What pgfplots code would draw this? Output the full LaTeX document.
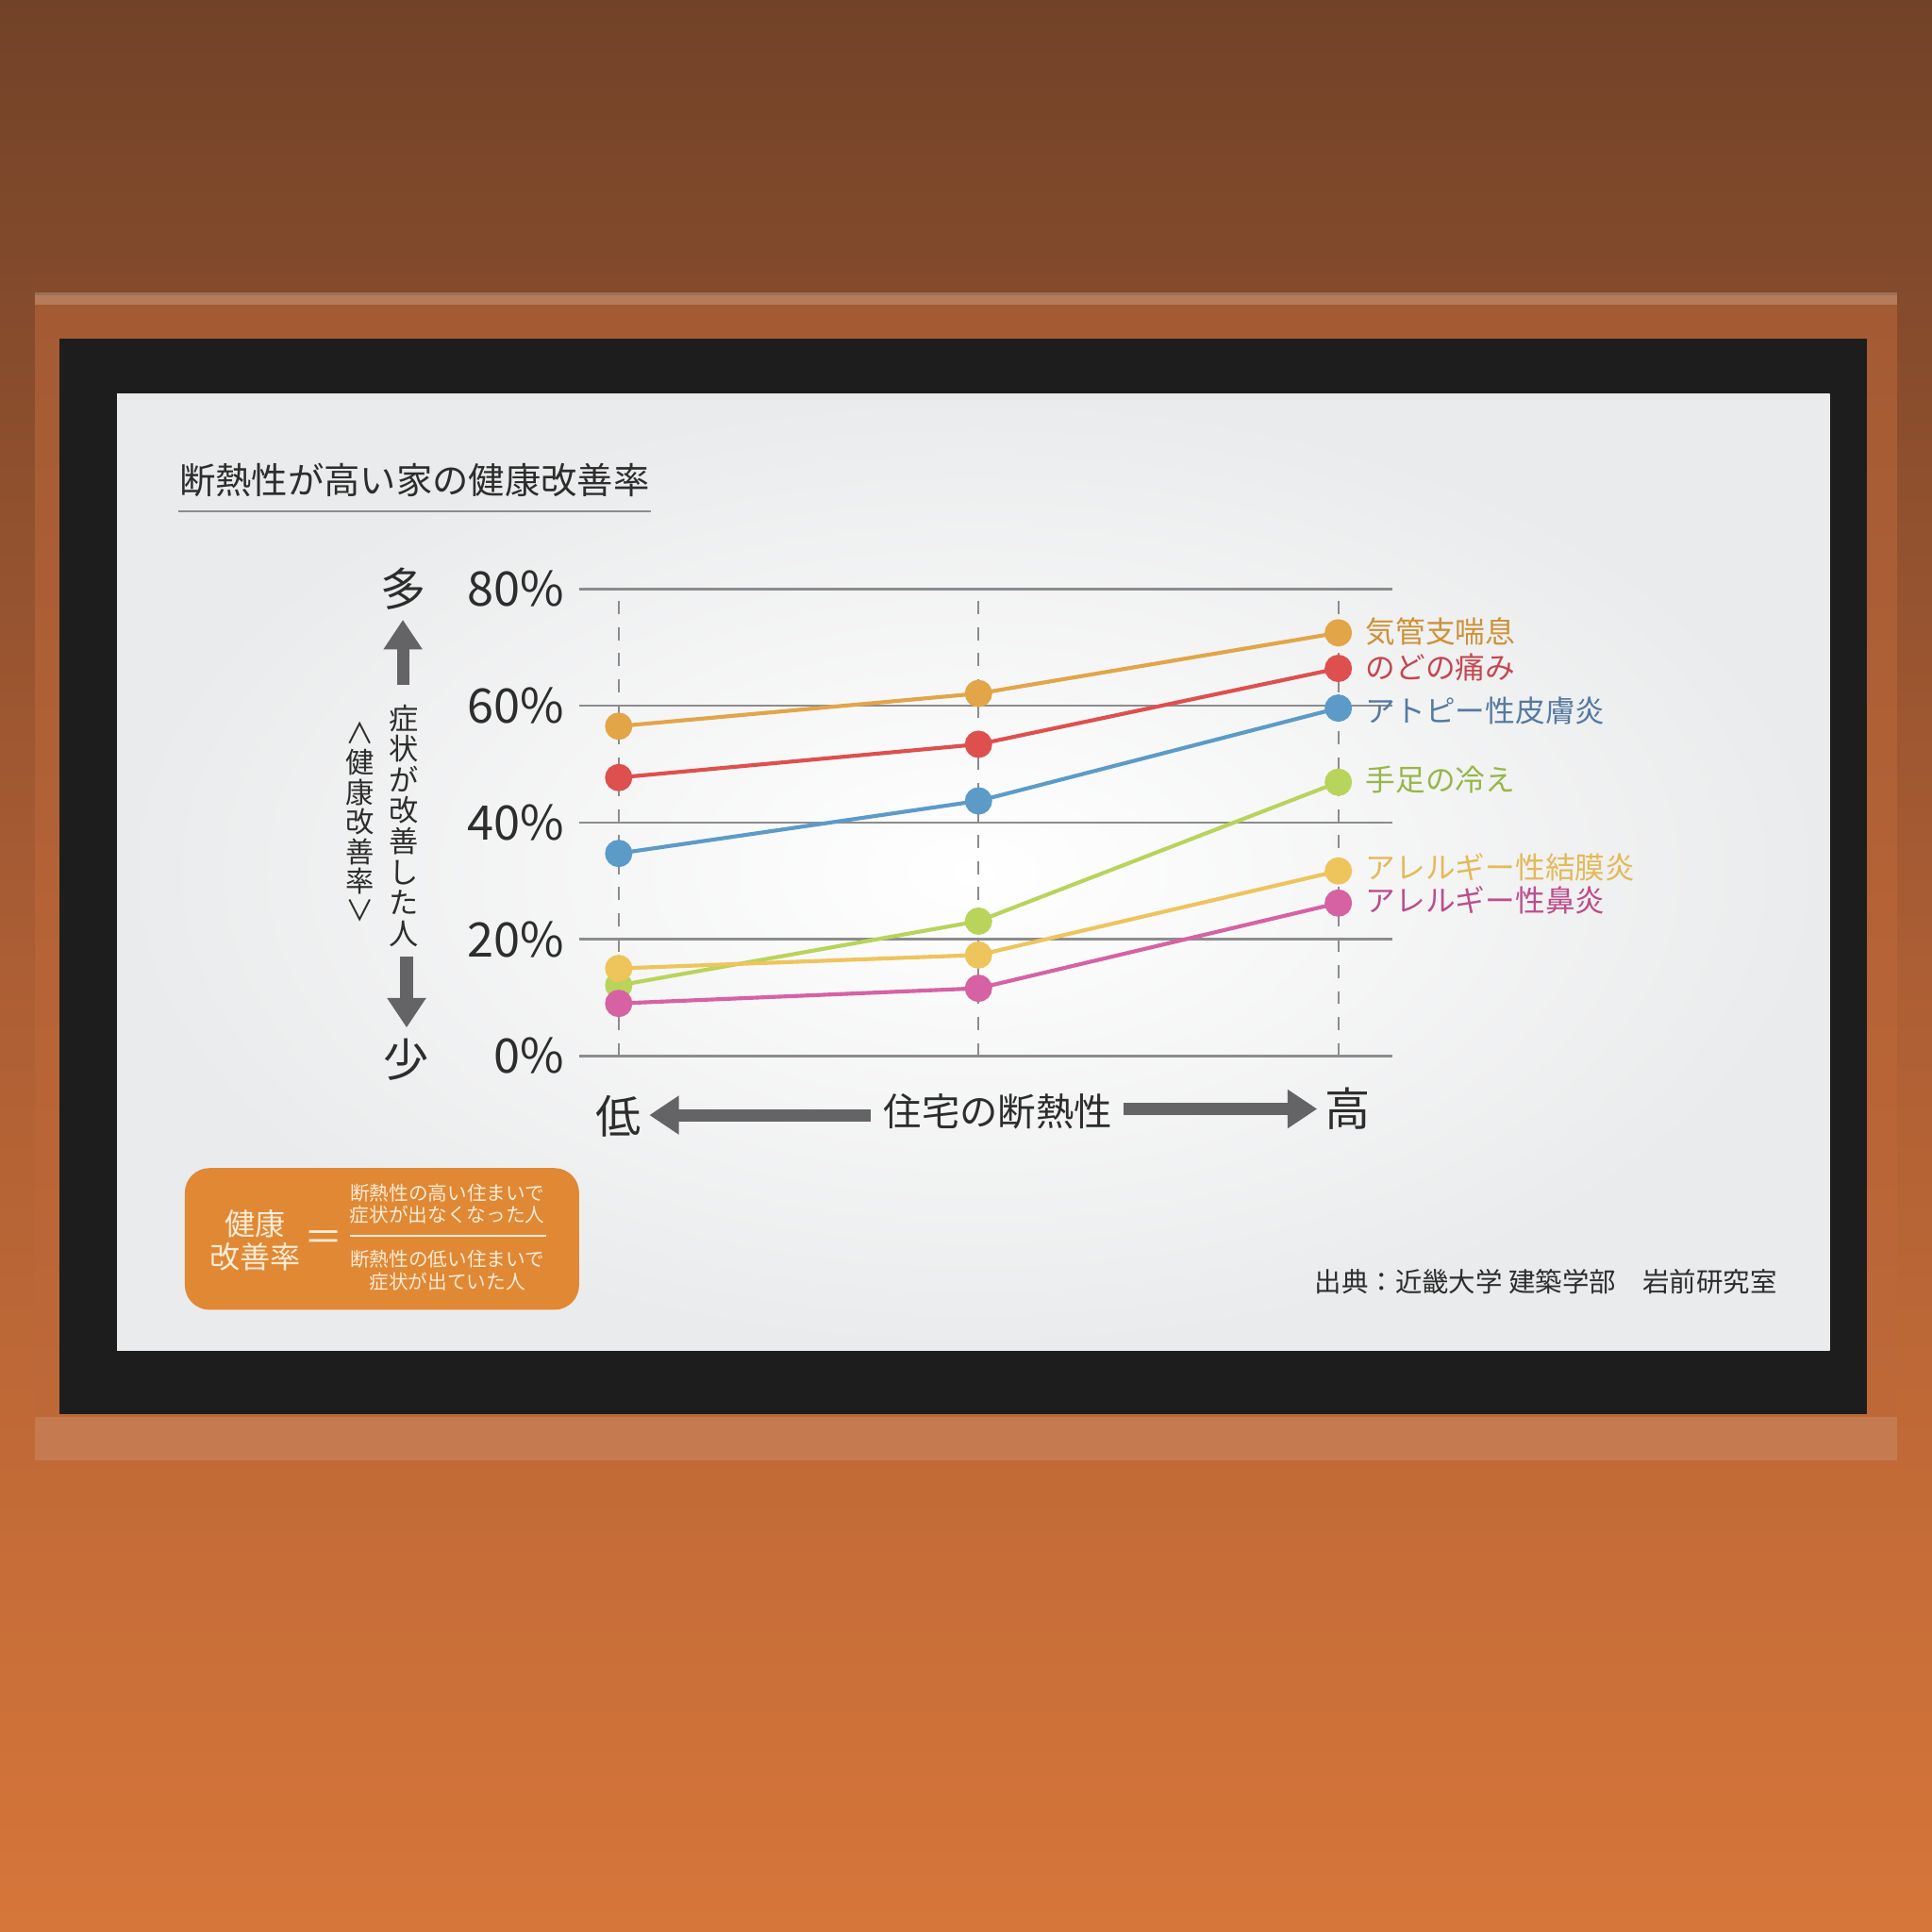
\documentclass[border=0pt]{standalone}
\usepackage{fontspec}
\setmainfont{Noto Sans CJK JP}
\usepackage{pgfplots}
\pgfplotsset{compat=1.18}
\usetikzlibrary{arrows.meta}
\definecolor{bgTop}{RGB}{114,66,40}
\definecolor{bgMid}{RGB}{172,94,52}
\definecolor{bgBot}{RGB}{214,118,58}
\definecolor{wallIn}{RGB}{190,104,58}
\definecolor{bezel}{RGB}{30,29,30}
\definecolor{scr}{RGB}{234,235,236}
\definecolor{arrowgray}{RGB}{100,100,102}
\definecolor{txt}{RGB}{45,45,45}
\definecolor{gridc}{RGB}{140,140,143}
\definecolor{boxor}{RGB}{224,136,52}
\definecolor{cream}{RGB}{252,236,214}
% series colours
\definecolor{cOr}{RGB}{226,165,72}
\definecolor{cRe}{RGB}{222,80,78}
\definecolor{cBl}{RGB}{92,155,200}
\definecolor{cGr}{RGB}{184,212,90}
\definecolor{cYe}{RGB}{238,196,92}
\definecolor{cPk}{RGB}{214,98,164}
% label colours
\definecolor{tOr}{RGB}{206,145,55}
\definecolor{tRe}{RGB}{196,72,80}
\definecolor{tBl}{RGB}{86,122,160}
\definecolor{tGr}{RGB}{150,182,72}
\definecolor{tYe}{RGB}{228,185,88}
\definecolor{tPk}{RGB}{188,78,140}
\begin{document}
\begin{tikzpicture}
\begin{scope}[x=0.1mm,y=-0.1mm]
% wall
\shade[top color=bgTop, bottom color=bgBot, middle color=bgMid] (0,0) rectangle (1568,1568);
\fill[wallIn, opacity=0.55] (28,240) rectangle (1540,1185);
\draw[white, opacity=0.2, line width=1mm] (28,242) -- (1540,242);
\fill[white, opacity=0.12] (28,1150) rectangle (1540,1185);
% monitor
\fill[bezel] (48,275) rectangle (1515,1148);
\shade[inner color=white, outer color=scr] (95,320) rectangle (1485,1096);
% title
\node[anchor=west, text=txt, font=\fontsize{8.35}{8.35}\selectfont, inner sep=0] at (145,390) {断熱性が高い家の健康改善率};
\draw[gridc, line width=0.5pt] (145,415) -- (528,415);
\coordinate (A) at (470,857);
% y-side annotation
\node[text=txt, font=\fontsize{10.5}{10.5}\selectfont] at (327,478) {多};
\draw[arrowgray, line width=1mm, -{Triangle[width=3mm,length=2.4mm]}] (327,556) -- (327,503);
\node[text=txt, font=\fontsize{6.8}{7.1}\selectfont, align=center, inner sep=0] at (328,670) {症\\状\\が\\改\\善\\し\\た\\人};
\node[text=txt, font=\fontsize{6.6}{6.85}\selectfont, align=center, inner sep=0] at (292,667) {∧\\健\\康\\改\\善\\率\\∨};
\draw[arrowgray, line width=1mm, -{Triangle[width=3mm,length=2.4mm]}] (330,776) -- (330,834);
\node[text=txt, font=\fontsize{10.5}{10.5}\selectfont] at (330,860) {少};
% x-side annotation
\node[text=txt, font=\fontsize{10.5}{10.5}\selectfont] at (502,906) {低};
\draw[arrowgray, line width=1mm, -{Triangle[width=3mm,length=2.4mm]}] (707,905) -- (527,905);
\node[text=txt, font=\fontsize{8.8}{8.8}\selectfont] at (810,902) {住宅の断熱性};
\draw[arrowgray, line width=1mm, -{Triangle[width=3mm,length=2.4mm]}] (912,900) -- (1069,900);
\node[text=txt, font=\fontsize{10.5}{10.5}\selectfont] at (1094,900) {高};
% formula box
\fill[boxor, rounded corners=2mm] (150,948) rectangle (470,1063);
\node[text=cream, font=\fontsize{7}{7.6}\selectfont, align=center] at (207,1007) {健康\\改善率};
\node[text=cream, font=\fontsize{9}{9}\selectfont] at (263,1007) {＝};
\node[text=cream, font=\fontsize{4.5}{5.2}\selectfont, align=center] at (363,977) {断熱性の高い住まいで\\症状が出なくなった人};
\draw[cream, line width=0.5pt] (284,1003) -- (443,1003);
\node[text=cream, font=\fontsize{4.5}{5.2}\selectfont, align=center] at (363,1031) {断熱性の低い住まいで\\症状が出ていた人};
% source
\node[anchor=east, text=txt, font=\fontsize{6.2}{6.2}\selectfont, inner sep=0] at (1443,1040) {出典：近畿大学 建築学部　岩前研究室};
\end{scope}
% chart
\begin{axis}[
  at={(A)}, anchor=south west,
  scale only axis, width=66mm, height=37.9mm,
  xmin=-0.11, xmax=2.15, ymin=0, ymax=80,
  clip=false,
  axis line style={draw=none},
  xtick={0,1,2}, xticklabels={},
  ytick={0,20,40,60,80},
  major tick length=0pt,
  /pgf/number format/assume math mode=true,
  yticklabel={\pgfmathprintnumber{\tick}\%},
  yticklabel style={font=\fontsize{11}{11}\selectfont, text=txt},
  xmajorgrids, ymajorgrids,
  x grid style={dashed, gridc, line width=0.5pt},
  y grid style={gridc, line width=0.55pt},
  every axis plot/.append style={line width=0.9pt, mark=*, mark size=0.95mm},
]
\addplot[cOr, mark options={fill=cOr, draw=cOr}] coordinates {(0,56.5) (1,62.1) (2,72.5)};
\addplot[cRe, mark options={fill=cRe, draw=cRe}] coordinates {(0,47.7) (1,53.4) (2,66.4)};
\addplot[cBl, mark options={fill=cBl, draw=cBl}] coordinates {(0,34.7) (1,43.7) (2,59.6)};
\addplot[cGr, mark options={fill=cGr, draw=cGr}] coordinates {(0,12.1) (1,23.1) (2,46.9)};
\addplot[cYe, mark options={fill=cYe, draw=cYe}] coordinates {(0,15.0) (1,17.3) (2,31.7)};
\addplot[cPk, mark options={fill=cPk, draw=cPk}] coordinates {(0,9.0) (1,11.6) (2,26.2)};
\begin{scope}[every node/.style={anchor=west, xshift=1.0mm, font=\fontsize{6.9}{6.9}\selectfont}]
\node[text=tOr] at (axis cs:2,72.8) {気管支喘息};
\node[text=tRe] at (axis cs:2,66.6) {のどの痛み};
\node[text=tBl] at (axis cs:2,59.2) {アトピー性皮膚炎};
\node[text=tGr] at (axis cs:2,47.3) {手足の冷え};
\node[text=tYe] at (axis cs:2,32.3) {アレルギー性結膜炎};
\node[text=tPk] at (axis cs:2,26.6) {アレルギー性鼻炎};
\end{scope}
\end{axis}
\end{tikzpicture}
\end{document}
